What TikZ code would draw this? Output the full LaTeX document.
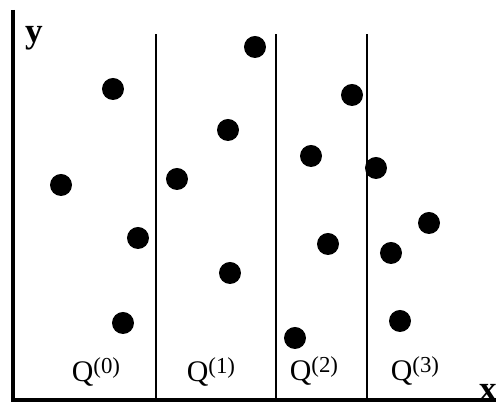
\documentclass[tikz,border=0pt]{standalone}
\usepackage{fontspec}
\setmainfont{Liberation Serif}
\usetikzlibrary{positioning}

\tikzset{
  pt/.style={circle, fill, inner sep=0pt, minimum size=0.44cm},
  part/.style={font=\fontsize{17}{19}\selectfont},
  axlabel/.style={font=\fontsize{20}{22}\selectfont\bfseries}
}

\newcommand{\qsup}[1]{Q\raisebox{0.55ex}{\fontsize{13}{15}\selectfont(#1)}}

\begin{document}
\begin{tikzpicture}[scale=1.0]
	\useasboundingbox (-0.26,-0.18) rectangle (9.66,8.0);

	% axes
	\draw [line width=2pt] (0,7.8) -- (0,0) -- (9.66,0);
	\node [axlabel] (ylab) at (0.42,7.24) {y};
	\node [axlabel] (xlab) at (9.50,0.15) {x};

	% dividing lines
	\foreach \xd in {2.86,5.26,7.08}
		\draw [line width=1.4pt] (\xd,0) -- (\xd,7.32);

	% points of Q(0)
	\node [pt] (p01) at (2.00,6.22) {};
	\node [pt] (p02) at (0.96,4.30) {};
	\node [pt] (p03) at (2.50,3.24) {};
	\node [pt] (p04) at (2.20,1.54) {};

	% points of Q(1)
	\node [pt] (p11) at (4.84,7.06) {};
	\node [pt] (p12) at (4.30,5.40) {};
	\node [pt] (p13) at (3.28,4.42) {};
	\node [pt] (p14) at (4.34,2.54) {};

	% points of Q(2)
	\node [pt] (p21) at (6.78,6.10) {};
	\node [pt] (p22) at (5.96,4.88) {};
	\node [pt] (p23) at (6.30,3.12) {};
	\node [pt] (p24) at (5.64,1.24) {};

	% points of Q(3)
	\node [pt] (p31) at (7.26,4.64) {};
	\node [pt] (p32) at (8.32,3.54) {};
	\node [pt] (p33) at (7.56,2.94) {};
	\node [pt] (p34) at (7.74,1.58) {};

	% partition labels
	\node [part] (q0) at (1.66,0.56) {\qsup{0}};
	\node [part] (q1) at (3.96,0.56) {\qsup{1}};
	\node [part] (q2) at (6.02,0.58) {\qsup{2}};
	\node [part] (q3) at (8.04,0.58) {\qsup{3}};
\end{tikzpicture}
\end{document}
